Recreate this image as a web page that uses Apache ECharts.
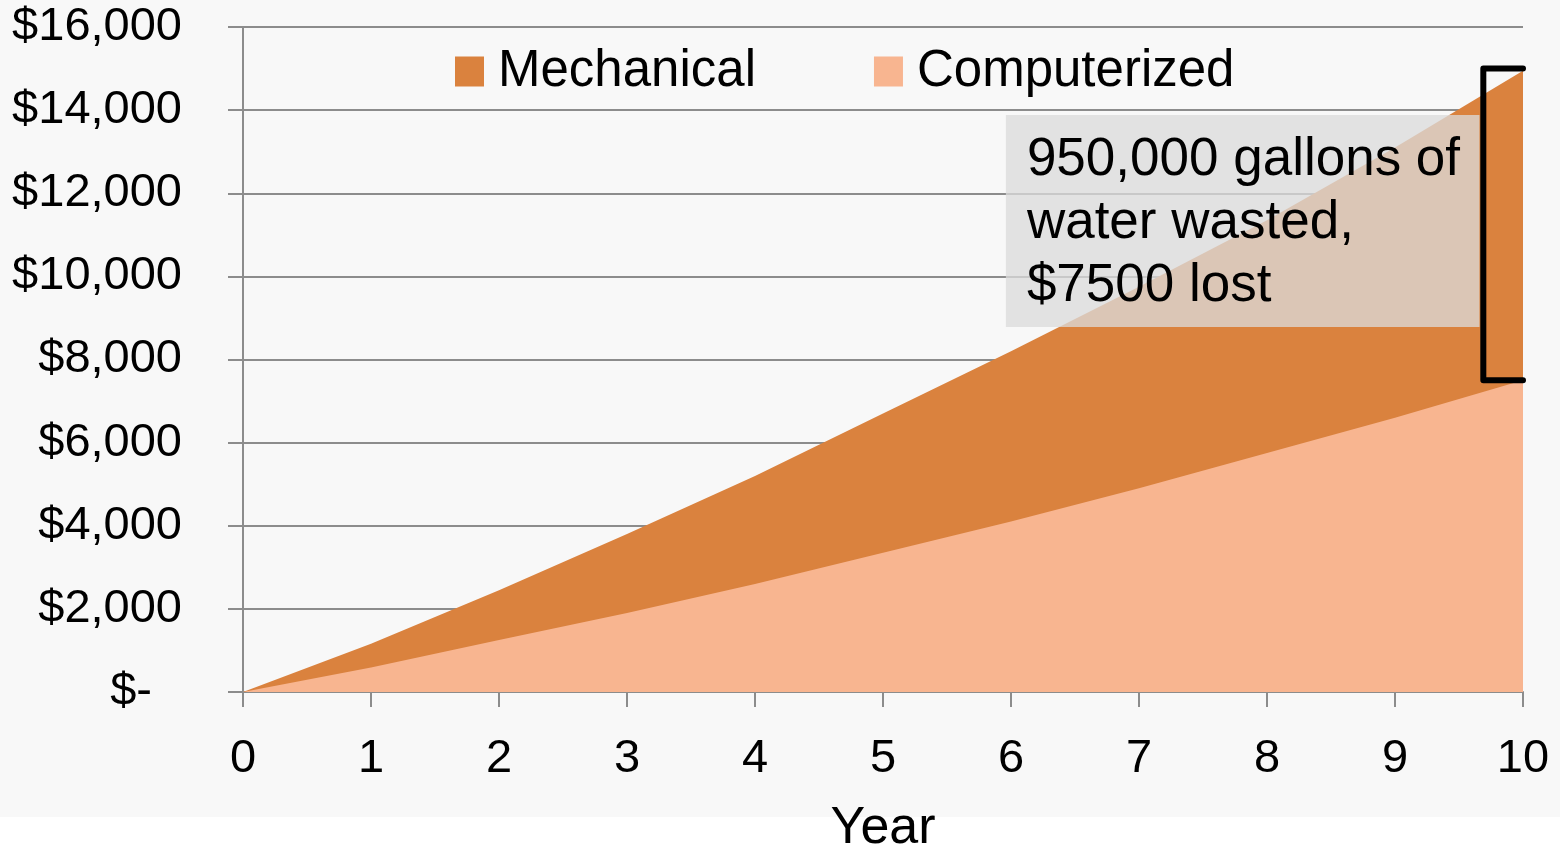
<!DOCTYPE html>
<html>
<head>
<meta charset="utf-8">
<script src="https://cdn.jsdelivr.net/npm/echarts@6/dist/echarts.min.js"></script>
<style>
  html, body { margin: 0; padding: 0; background: #fff; }
  #chart { width: 1560px; height: 847px; }
</style>
</head>
<body>
<div id="chart"></div>
<script>
const years = [0, 1, 2, 3, 4, 5, 6, 7, 8, 9, 10]
const mechanical = [0, 1160, 2450, 3800, 5200, 6700, 8200, 9750, 11350, 13100, 14950]
const computerized = [0, 590, 1250, 1900, 2600, 3350, 4100, 4900, 5750, 6600, 7500]
const yTicks = [0, 2000, 4000, 6000, 8000, 10000, 12000, 14000, 16000]

const noteText = '950,000 gallons of\nwater wasted,\n$7500 lost'
// note box corners and bracket, in data units
const noteBox = [[5.96, 13880], [9.66, 8780]]
const bracket = [[10, 15000], [9.69, 15000], [9.69, 7500], [10, 7500]]

const FONT = '"Liberation Sans", Arial, sans-serif'
const GRID = '#8c8c8c'

const chart = echarts.init(document.getElementById('chart'))

chart.setOption({
  animation: false,
  backgroundColor: '#fff',
  graphic: [{
    type: 'rect', z: -10, silent: true,
    shape: { x: 0, y: 0, width: 1560, height: 817 },
    style: { fill: '#f8f8f8' }
  }],
  legend: {
    data: ['Mechanical', 'Computerized'],
    left: 450, top: 41,
    icon: 'rect',
    itemWidth: 29, itemHeight: 30,
    itemGap: 118,
    textStyle: { fontFamily: FONT, fontSize: 51, color: '#000', padding: [0, 0, 0, 9] }
  },
  grid: { left: 243, right: 37, top: 27, bottom: 155, outerBoundsMode: 'none' },
  xAxis: {
    type: 'value', min: 0, max: 10, interval: 1,
    name: 'Year', nameLocation: 'middle', nameGap: 111,
    nameTextStyle: { fontFamily: FONT, fontSize: 52, color: '#000' },
    axisLine: { show: true, lineStyle: { color: GRID, width: 2 } },
    axisTick: { show: true, length: 15, lineStyle: { color: GRID, width: 2 } },
    axisLabel: {
      fontFamily: FONT, fontSize: 47, color: '#000', margin: 44,
      formatter: v => years.includes(v) ? String(v) : ''
    },
    splitLine: { show: false }
  },
  yAxis: {
    type: 'value', min: 0, max: 16000, interval: 2000,
    axisLine: { show: true, lineStyle: { color: GRID, width: 2 } },
    axisTick: { show: true, length: 15, lineStyle: { color: GRID, width: 2 } },
    axisLabel: {
      fontFamily: FONT, fontSize: 47, color: '#000', margin: 61,
      formatter: v => {
        if (!yTicks.includes(v)) return ''
        return v === 0 ? '{z|$-}' : '$' + v.toLocaleString('en-US')
      },
      rich: { z: { fontFamily: FONT, fontSize: 47, color: '#000', padding: [0, 30, 0, 0] } }
    },
    splitLine: { show: true, lineStyle: { color: GRID, width: 2 } }
  },
  series: [
    {
      name: 'Mechanical', type: 'line', z: 2,
      data: years.map((x, i) => [x, mechanical[i]]),
      symbol: 'none',
      lineStyle: { width: 0 },
      itemStyle: { color: '#da823e' },
      areaStyle: { color: '#da823e', opacity: 1 }
    },
    {
      name: 'Computerized', type: 'line', z: 3,
      data: years.map((x, i) => [x, computerized[i]]),
      symbol: 'none',
      lineStyle: { width: 0 },
      itemStyle: { color: '#f8b590' },
      areaStyle: { color: '#f8b590', opacity: 1 }
    },
    {
      name: 'note', type: 'line', z: 5, data: [], silent: true,
      markArea: {
        silent: true, z: 5,
        itemStyle: { color: 'rgba(219,219,219,0.77)' },
        label: {
          show: true, position: 'insideTopLeft', distance: 0,
          padding: [14, 0, 0, 21],
          formatter: noteText,
          fontFamily: FONT, fontSize: 53, lineHeight: 63, color: '#000'
        },
        data: [[{ coord: noteBox[0] }, { coord: noteBox[1] }]]
      }
    },
    {
      name: 'bracket', type: 'line', z: 6, silent: true, clip: false,
      data: bracket,
      symbol: 'none',
      lineStyle: { color: '#000', width: 6, cap: 'round', join: 'round' }
    }
  ]
})
</script>
</body>
</html>
